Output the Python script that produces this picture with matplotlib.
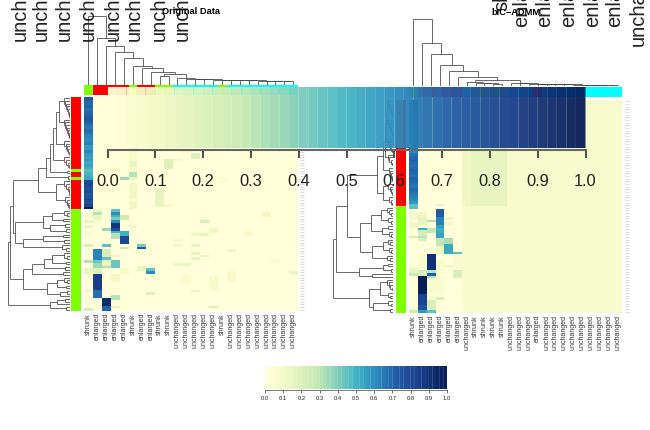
import matplotlib
matplotlib.use('Agg')
import matplotlib.pyplot as plt
import numpy as np
from matplotlib.colors import LinearSegmentedColormap, ListedColormap

plt.rcParams['font.family'] = ['Liberation Sans', 'DejaVu Sans']

W, H = 650, 430
n_rows = 80

# column classes under each heatmap
left_labels = ['shrunk', 'enlarged', 'enlarged', 'enlarged', 'enlarged', 'shrunk', 'enlarged', 'enlarged',
               'shrunk', 'shrunk', 'unchanged', 'unchanged', 'unchanged', 'unchanged', 'unchanged', 'shrunk',
               'unchanged', 'unchanged', 'unchanged', 'unchanged', 'unchanged', 'unchanged', 'unchanged', 'unchanged']
right_labels = ['shrunk', 'enlarged', 'enlarged', 'enlarged', 'enlarged', 'enlarged', 'unchanged', 'shrunk',
                'shrunk', 'shrunk', 'shrunk', 'unchanged', 'unchanged', 'unchanged', 'enlarged', 'unchanged',
                'unchanged', 'unchanged', 'unchanged', 'unchanged', 'unchanged', 'unchanged', 'unchanged', 'unchanged']

# row classes, 0 = red, 1 = green
left_row_class = [0] * 27 + [1] + [0] * 2 + [1] + [0] * 11 + [1] * 38
right_row_class = [0] * 40 + [1] * 40

# oversized labels running off the top of the picture
top_left_x = [20, 41, 64, 88, 113, 134, 159, 182]
top_left_text = ['unchanged'] * 8
top_right_x = [502, 522, 545, 569, 593, 615, 638]
top_right_text = ['shrunk', 'enlarged', 'enlarged', 'enlarged', 'enlarged', 'enlarged', 'unchanged']
top_right_bottom = [11, 27, 27, 27, 27, 27, 46]

# first column of the left heatmap over the 42 red rows
left_col0 = [.72, .70, .68, .70, .66, .68, .70, .72, .74, .70, .66, .64, .68, .66, .62,
             .60, .60, .62, .58, .56, .60, .58, .55, .56, .52, .54, .50, .46, .48, .50, .52,
             .78, .80, .78, .76, .78, .74, .76, .78, .76, .82, .96]
# first column of the right heatmap over the 40 red rows
right_col0 = [.72, .70, .68, .70, .68, .66, .68, .70, .68, .66, .66, .64, .66, .64, .62, .64, .62, .60, .62, .60,
              .66, .68, .70, .68, .66, .68, .70, .68, .66, .70, .68, .66, .64, .68, .66, .64, .62, .60, .56, .44]

# heat cells: column, first row, last row, value
left_cells = [
    (3, 42, 42, .45), (3, 43, 43, .60), (3, 44, 44, .50), (3, 45, 45, .40), (3, 46, 46, .60), (3, 47, 48, .88),
    (3, 49, 49, .78), (3, 50, 50, .50), (3, 51, 52, .30), (3, 59, 59, .12), (3, 61, 63, .42), (3, 66, 68, .10),
    (3, 74, 75, .30), (3, 78, 78, .15),
    (4, 44, 45, .25), (4, 50, 51, .50), (4, 52, 54, .80), (4, 56, 56, .25), (4, 64, 65, .08),
    (1, 42, 42, .12), (1, 43, 43, .30), (1, 44, 45, .15), (1, 46, 46, .06), (1, 57, 60, .62), (1, 61, 61, .42),
    (1, 62, 63, .34), (1, 64, 65, .18), (1, 66, 71, .85), (1, 72, 74, .66),
    (2, 49, 49, .35), (2, 55, 55, .45), (2, 57, 59, .20), (2, 60, 60, .45), (2, 61, 62, .15), (2, 63, 63, .30),
    (2, 75, 76, .90), (2, 77, 77, .95), (2, 78, 79, .70),
    (6, 55, 55, .40), (6, 56, 56, .72), (6, 63, 64, .15),
    (7, 65, 65, .60), (7, 64, 64, .45), (7, 73, 73, .18),
    (0, 44, 44, .10), (0, 46, 46, .15), (0, 48, 48, .12), (0, 50, 51, .06), (0, 55, 55, .20), (0, 61, 61, .30),
    (0, 64, 65, .15), (0, 72, 72, .10), (0, 79, 79, .20),
    (4, 30, 30, .35), (5, 19, 28, .08), (5, 24, 25, .15), (5, 28, 29, .30), (5, 30, 30, .15), (5, 32, 37, .10),
    (5, 39, 41, .10), (5, 48, 48, .10), (3, 27, 27, .12), (8, 34, 40, .15), (9, 23, 26, .18), (9, 40, 40, .08),
    (10, 23, 23, .10), (12, 21, 22, .18), (11, 20, 20, .06), (13, 46, 46, .20), (12, 51, 51, .12), (13, 51, 51, .15),
    (14, 49, 50, .12), (12, 55, 55, .15), (12, 58, 58, .15), (12, 60, 60, .15), (13, 59, 59, .15), (10, 53, 53, .10),
    (10, 55, 55, .10), (11, 62, 62, .15), (10, 62, 62, .12), (16, 57, 57, .10), (16, 65, 68, .08), (11, 66, 69, .07),
    (14, 67, 71, .08), (14, 78, 78, .20), (12, 72, 72, .15), (23, 65, 65, .15), (20, 43, 44, .10), (21, 61, 61, .07),
    (18, 50, 51, .08), (15, 30, 31, .05),
]
right_cells = [
    (3, 41, 43, .72), (3, 44, 46, .62), (3, 47, 47, .55), (3, 48, 49, .50), (3, 50, 51, .55), (3, 52, 54, .28),
    (3, 55, 57, .12), (3, 39, 39, .15), (3, 74, 74, .20), (3, 60, 64, .06), (3, 66, 72, .06),
    (4, 52, 53, .32), (4, 54, 57, .52), (4, 44, 44, .12), (4, 46, 46, .12), (4, 62, 62, .10),
    (5, 57, 57, .45), (5, 58, 63, .06), (5, 64, 66, .20),
    (2, 45, 45, .30), (2, 48, 49, .28), (2, 58, 63, .90), (2, 64, 64, .30), (2, 65, 65, .70), (2, 66, 66, .30),
    (2, 67, 74, .07), (2, 75, 78, .20), (2, 79, 79, .45),
    (1, 42, 43, .10), (1, 44, 46, .15), (1, 48, 48, .50), (1, 49, 50, .22), (1, 51, 51, .30), (1, 52, 52, .20),
    (1, 64, 65, .22), (1, 66, 72, .98), (1, 73, 76, .82), (1, 77, 78, .76), (1, 79, 79, .58), (1, 58, 63, .07),
    (0, 40, 40, .45), (0, 42, 44, .08), (0, 46, 47, .10), (0, 51, 51, .20), (0, 63, 64, .15), (0, 65, 65, .25),
    (0, 78, 78, .08), (0, 79, 79, .25),
]
# pale wash behind the right heatmap: column from, column to, first row, last row, value
right_wash = [(6, 23, 0, 79, .06), (6, 6, 0, 39, .10), (7, 10, 0, 39, .14)]

# tree nodes: [height, child, child]; 1 is a leaf, a tuple is a chain of merge heights
top_left_tree = [69, 1, [47, 1, [39, 1, [33, 1, [27, 1, [19, 1, [17, 1, [13, 1, [11, [9, 1, 1],
                (7, 6.5, 6, 6, 5.5, 5.5, 5, 5, 5, 4.5, 4.5, 4, 4)]]]]]]]]]
top_right_tree = [67, 1, [43, 1, [32, 1, [21, 1, [15, 1, [9, 1, [6, [4, 1, (3, 3, 2)],
                 (3, 3, 2.5, 2.5, 2, 2, 2, 1.5, 1.5, 1, 1, 1)]]]]]]]

left_red = [32, [24, [20, [17, [14, [11, (6, 5, 4, 3, 2, 1, 1), (6, 5, 4, 3, 2, 1, 1)], (6, 4, 3, 2, 1)], (6, 4, 2, 1)], (3,)], (2,)],
            [14, (6, 4, 2, 1, 1), (5, 3, 2, 1)]]
left_a = [27, [18, (6, 3), (7,)], [20, (5,), (4,)]]
left_b = [47, [27, (7,), (6,)], (8, 4)]
left_c = [38, [26, [18, (6, 3), (4,)], (5,)], (7,)]
left_d = [23, [13, (6, 3), (4,)], [10, (3,), 1]]
left_e = [20, [13, (5,), 1], (4,)]
left_row_tree = [62, [60, [57, left_red, [55, left_a, left_b]], [47, left_c, left_d]], left_e]

right_red = [16, [10, [8, [7, [6, (5, 4, 3, 2, 1, 1), (5, 4, 3, 2, 1, 1)], (5, 4, 3, 2, 1)], (5, 4, 2, 1)], (4, 3, 2, 1, 1)],
             [10, (5, 3, 2, 1), (4, 2, 1)]]
right_g1 = [22, [12, (6, 4, 2), (5, 2)], [11, (5,), (4, 2)]]
right_g2 = [21, [10, (5, 3), (4, 2)], (6, 3)]
right_d = [34, [10, (5,), (2,)], (21,)]
right_low = [24, [13, (6, 4, 3, 1), (5, 3)], [20, (5, 2), (3,)]]
right_row_tree = [60, [57, [46, right_red, [33, right_g1, right_g2]], right_d], right_low]

# colour ramp of the heatmaps and colour keys
ramp_pos = [0, .1, .28, .4, .5, .6, .72, .85, 1]
ramp_col = ['#FFFFD9', '#F3F9C6', '#C7E9B4', '#7FCDBB', '#41B6C4', '#2C8FBE', '#225EA8', '#1A3F8C', '#081D58']
ticks = [0, .1, .2, .3, .4, .5, .6, .7, .8, .9, 1]
class_colors = {'shrunk': '#80FF00', 'enlarged': '#FF0000', 'unchanged': '#00FFFF'}

cmap = LinearSegmentedColormap.from_list('ramp', list(zip(ramp_pos, ramp_col)), N=50)
row_cmap = ListedColormap(['#FF0000', '#80FF00'])
tree_color = '#404040'

fig = plt.figure(figsize=(W / 100, H / 100), dpi=100)


def box(x0, y0, x1, y1, z=1):
    # axes placed by pixel box, y counted from the top
    ax = fig.add_axes([x0 / W, 1 - y1 / H, (x1 - x0) / W, (y1 - y0) / H], zorder=z)
    for s in ax.spines.values():
        s.set_visible(False)
    ax.set_xticks([])
    ax.set_yticks([])
    return ax


def draw_tree(ax, node, horizontal):
    state = [0]

    def seg(a, ha, b, hb):
        if horizontal:
            ax.plot([ha, hb], [a, b], color=tree_color, lw=0.55, solid_capstyle='butt')
        else:
            ax.plot([a, b], [ha, hb], color=tree_color, lw=0.55, solid_capstyle='butt')

    def walk(n):
        if n == 1:
            state[0] += 1
            return state[0] - 0.5, 0
        if isinstance(n, tuple):
            n = [n[0], 1, n[1:] if len(n) > 1 else 1]
        a, ha = walk(n[1])
        b, hb = walk(n[2])
        seg(a, ha, a, n[0])
        seg(b, hb, b, n[0])
        seg(a, n[0], b, n[0])
        return (a + b) / 2, n[0]

    walk(node)
    ax.patch.set_alpha(0)


def heat_matrix(cells, first_col):
    m = np.zeros((n_rows, 24))
    m[:len(first_col), 0] = first_col
    for c, r0, r1, v in cells:
        m[r0:r1 + 1, c] = v
    return m


def class_strip(ax, labels):
    codes = [[list(class_colors).index(s) for s in labels]]
    ax.imshow(codes, cmap=ListedColormap(list(class_colors.values())), vmin=0, vmax=2, aspect='auto', interpolation='nearest')


def heatmap(x0, x1, y0, y1, m, labels):
    ax = box(x0, y0, x1, y1)
    ax.imshow(m, cmap=cmap, vmin=0, vmax=1, aspect='auto', interpolation='nearest', extent=(0, 24, n_rows, 0))
    ax.set_xticks(np.arange(24) + .5, labels, rotation=90, fontsize=5, color='#333333')
    ax.tick_params(axis='x', length=0, pad=1.5)
    ax.yaxis.tick_right()
    ax.spines['right'].set_position(('outward', 1.8))
    ax.set_yticks(np.arange(n_rows) + .5, [''] * n_rows)
    ax.tick_params(axis='y', length=3, width=.5, color='#cccccc')
    return ax


def color_key(x0, x1, y0, y1, size, tick_len, width, pad, lw, gap, z, alpha):
    ax = box(x0, y0, x1, y1, z=z)
    levels = (np.arange(50) + .5) / 50
    bars = ax.bar(levels, 1, width=.02 * width, color=cmap(levels), linewidth=0, alpha=alpha)
    for b in bars:
        b.set_snap(False)
    ax.set_xlim(0, 1)
    ax.set_ylim(0, 1)
    ax.patch.set_alpha(0)
    ax.spines['bottom'].set_visible(True)
    ax.spines['bottom'].set_position(('outward', gap))
    ax.spines['bottom'].set_color('#666666')
    ax.spines['bottom'].set_linewidth(lw)
    ax.set_xticks(ticks, ['%.1f' % t for t in ticks], fontsize=size, color='#222222')
    ax.tick_params(axis='x', length=tick_len, width=lw, color='#555555', pad=pad)
    return ax


# left panel
heatmap(84, 297.7, 97, 311, heat_matrix(left_cells, left_col0), left_labels)
ax = box(71, 97, 81, 311)
ax.imshow(np.array(left_row_class)[:, None], cmap=row_cmap, vmin=0, vmax=1, aspect='auto', interpolation='nearest')
class_strip(box(84, 85, 297.7, 95), left_labels)
ax = box(84, 16, 297.7, 85)
ax.set_xlim(0, 24)
ax.set_ylim(0, 69)
draw_tree(ax, top_left_tree, False)
ax = box(8, 97, 70, 311)
ax.set_xlim(62, 0)
ax.set_ylim(n_rows, 0)
draw_tree(ax, left_row_tree, True)

# right panel
m = heat_matrix(right_cells, right_col0)
for c0, c1, r0, r1, v in right_wash:
    m[r0:r1 + 1, c0:c1 + 1] = np.maximum(m[r0:r1 + 1, c0:c1 + 1], v)
heatmap(409, 622, 100, 313, m, right_labels)
ax = box(396, 100, 406, 313)
ax.imshow(np.array(right_row_class)[:, None], cmap=row_cmap, vmin=0, vmax=1, aspect='auto', interpolation='nearest')
class_strip(box(409, 87, 622, 97), right_labels)
ax = box(409, 19, 622, 86)
ax.set_xlim(0, 24)
ax.set_ylim(0, 67)
draw_tree(ax, top_right_tree, False)
ax = box(333, 100, 393, 313)
ax.set_xlim(60, 0)
ax.set_ylim(n_rows, 0)
draw_tree(ax, right_row_tree, True)

# colour keys, the big one lies over both panels
color_key(265, 447, 366, 389, 4.2, 2, 1.05, 2.2, .6, .8, 2, 1)
color_key(107.5, 585.5, 87, 148, 11.8, 5.5, 1, 12, 1.5, 1.5, 10, .95)

# titles and the oversized labels, last on top
fig.text(191 / W, 1 - 11 / H, 'Original Data', fontsize=6.7, fontweight='bold', ha='center', va='center', zorder=20)
fig.text(516 / W, 1 - 12.5 / H, 'bIC\u2212ADMM', fontsize=6.7, fontweight='bold', ha='center', va='center', zorder=20)
for x, s in zip(top_left_x, top_left_text):
    fig.text(x / W, 1 - 41 / H, s, rotation=90, fontsize=14.5, color='#222222', ha='center', va='bottom', zorder=15)
for x, s, b in zip(top_right_x, top_right_text, top_right_bottom):
    fig.text(x / W, 1 - b / H, s, rotation=90, fontsize=14.5, color='#222222', ha='center', va='bottom', zorder=15)

fig.savefig('out.png', dpi=100)
